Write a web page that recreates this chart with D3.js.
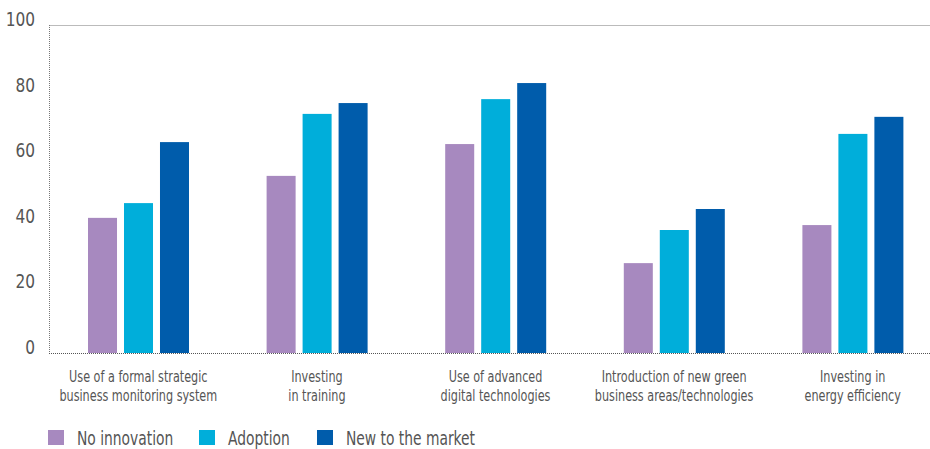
<!DOCTYPE html>
<html>
<head>
<meta charset="utf-8">
<script src="https://cdn.jsdelivr.net/npm/d3@7"></script>
<style>
  body { margin: 0; background: #fff; }
  svg text { font-family: "DejaVu Sans", sans-serif; font-stretch: condensed; fill: #555; }
</style>
</head>
<body>
<svg class="chart" width="930" height="449"></svg>
<script>
// data
var categories = [
  ["Use of a formal strategic", "business monitoring system"],
  ["Investing", "in training"],
  ["Use of advanced", "digital technologies"],
  ["Introduction of new green", "business areas/technologies"],
  ["Investing in", "energy efficiency"]
];
var seriesNames = ["No innovation", "Adoption", "New to the market"];
var noInnovation = [41.2, 54, 63.7, 27.4, 39];
var adoption = [45.7, 72.9, 77.4, 37.5, 66.8];
var newToMarket = [64.3, 76.2, 82.3, 43.9, 72];
var yTicks = [0, 20, 40, 60, 80, 100];
var colors = ["#a789bf", "#00aeda", "#005cab"];

var series = [noInnovation, adoption, newToMarket];

var svg = d3.select(".chart");
var plotLeft = 49, plotRight = 942, plotTop = 25, plotBottom = 353;
var squeeze = 0.78; // reference font is a narrow one

var x0 = d3.scaleBand()
  .domain(d3.range(categories.length))
  .range([plotLeft, plotRight]);

var x1 = d3.scaleBand()
  .domain(d3.range(series.length))
  .range([39, 140])
  .paddingInner(0.194);

var y = d3.scaleLinear()
  .domain([0, 100])
  .range([plotBottom, plotTop]);

// frame: dotted top and left
var frame = svg.append("g").attr("class", "frame")
  .attr("stroke", "#777")
  .attr("stroke-width", 1)
  .attr("stroke-dasharray", "1,1");

frame.append("line")
  .attr("x1", plotLeft + 0.5).attr("x2", 930)
  .attr("y1", y(100) + 0.5).attr("y2", y(100) + 0.5);
frame.append("line")
  .attr("x1", plotLeft + 0.5).attr("x2", plotLeft + 0.5)
  .attr("y1", y(100)).attr("y2", y(0));

// y tick labels
svg.append("g").attr("class", "yticks")
  .selectAll("text")
  .data(yTicks)
  .enter().append("text")
  .attr("transform", function(d) { return "translate(" + [35, y(d) + 1] + ") scale(0.9,1)"; })
  .attr("text-anchor", "end")
  .attr("font-size", 19)
  .text(function(d) { return d; });

// bars
var groups = svg.append("g").attr("class", "bars")
  .selectAll("g")
  .data(categories)
  .enter().append("g")
  .attr("transform", function(d, i) { return "translate(" + [x0(i), 0] + ")"; });

groups.selectAll("rect")
  .data(function(d, i) { return series.map(function(s) { return s[i]; }); })
  .enter().append("rect")
  .attr("x", function(d, j) { return x1(j); })
  .attr("width", x1.bandwidth())
  .attr("y", function(d) { return y(d); })
  .attr("height", function(d) { return y(0) - y(d); })
  .attr("fill", function(d, j) { return colors[j]; });

// baseline drawn over bars
svg.append("line")
  .attr("x1", plotLeft).attr("x2", 930)
  .attr("y1", y(0) + 0.5).attr("y2", y(0) + 0.5)
  .attr("stroke", "#555")
  .attr("stroke-dasharray", "1,1");

// category labels
groups.append("text")
  .attr("transform", "translate(" + [x0.bandwidth() / 2, 0] + ") scale(" + squeeze + ",1)")
  .attr("text-anchor", "middle")
  .attr("font-size", 16)
  .selectAll("tspan")
  .data(function(d) { return d; })
  .enter().append("tspan")
  .attr("x", 0)
  .attr("y", function(d, k) { return 382 + k * 19.5; })
  .text(function(d) { return d; });

// legend
var legendX = [48, 199, 317];
var legend = svg.append("g").attr("class", "legend")
  .selectAll("g")
  .data(seriesNames)
  .enter().append("g")
  .attr("transform", function(d, i) { return "translate(" + [legendX[i], 430] + ")"; });

legend.append("rect")
  .attr("width", 16)
  .attr("height", 15)
  .attr("fill", function(d, i) { return colors[i]; });

legend.append("text")
  .attr("transform", "translate(" + [29, 14.5] + ") scale(0.77,1)")
  .attr("font-size", 20)
  .text(function(d) { return d; });
</script>
</body>
</html>
